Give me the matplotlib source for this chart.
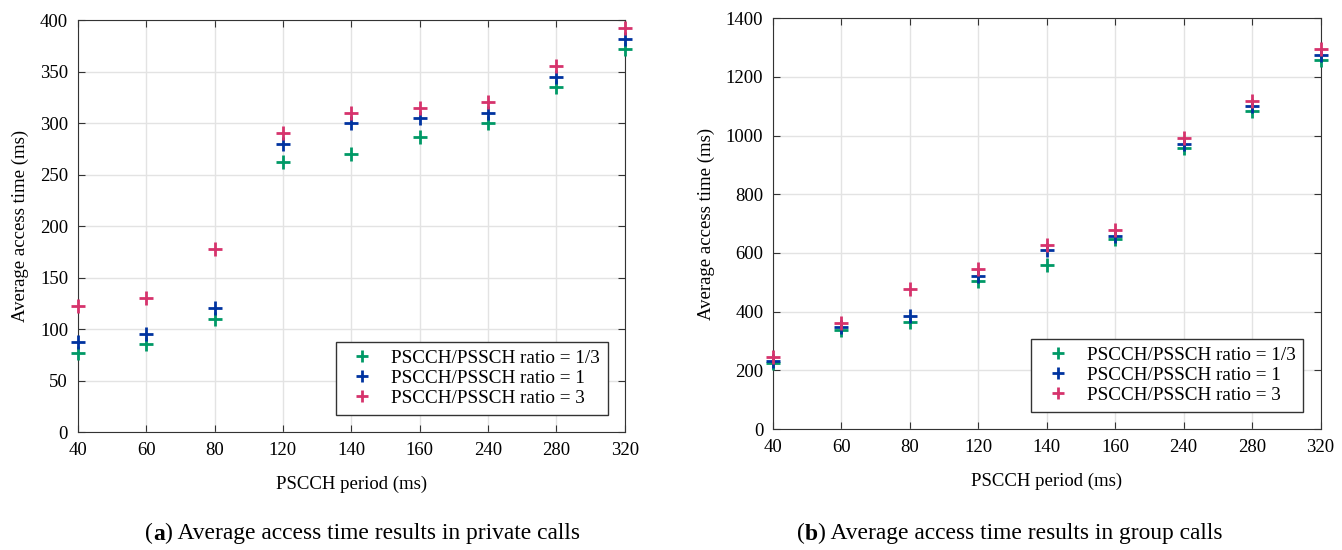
import matplotlib.pyplot as plt

plt.rcParams['font.family'] = ['Liberation Serif', 'DejaVu Serif']

periods = ['40', '60', '80', '120', '140', '160', '240', '280', '320']

# private calls (a)
priv_r13 = [77, 85, 110, 262, 270, 286, 300, 335, 372]
priv_r1 = [87, 95, 120, 280, 300, 305, 310, 345, 382]
priv_r3 = [122, 130, 178, 290, 310, 315, 320, 355, 392]

# group calls (b)
grp_r13 = [224, 337, 364, 506, 560, 649, 958, 1085, 1258]
grp_r1 = [233, 347, 384, 523, 610, 659, 972, 1101, 1274]
grp_r3 = [247, 360, 476, 544, 627, 678, 992, 1119, 1294]

labels = ['PSCCH/PSSCH ratio = 1/3', 'PSCCH/PSSCH ratio = 1', 'PSCCH/PSSCH ratio = 3']
colors = ['#009966', '#0033a0', '#d6336c']

fig = plt.figure(figsize=(13.42, 5.5), dpi=100)
ax1 = fig.add_axes([0.058, 0.2145, 0.4076, 0.749])
ax2 = fig.add_axes([0.576, 0.22, 0.408, 0.747])

def draw(ax, series, ymax, ystep):
    x = range(len(periods))
    for vals, c, lab in zip(series, colors, labels):
        ax.plot(x, vals, linestyle='none', marker='+', markersize=10,
                markeredgewidth=2, color=c, label=lab, clip_on=False, zorder=3)
    ax.set_xlim(0, len(periods) - 1)
    ax.set_ylim(0, ymax)
    ax.set_xticks(list(x))
    ax.set_xticklabels(periods)
    ax.set_yticks(range(0, ymax + 1, ystep))
    ax.grid(True, color='#e3e3e3', linewidth=1)
    ax.set_axisbelow(True)
    ax.tick_params(direction='in', labelsize=13.5, length=5, color='#333333',
                   top=True, right=True, pad=7)
    for s in ax.spines.values():
        s.set_color('#333333')
    ax.set_xlabel('PSCCH period (ms)', fontsize=13.5, labelpad=12)
    ax.set_ylabel('Average access time (ms)', fontsize=13.5, labelpad=8)
    leg = ax.legend(loc='lower right', fontsize=13.8, fancybox=False,
                    framealpha=1, edgecolor='#333333', borderaxespad=0.9,
                    handletextpad=0.5, labelspacing=0.14, markerscale=0.85)
    leg.get_frame().set_linewidth(1)

draw(ax1, [priv_r13, priv_r1, priv_r3], 400, 50)
draw(ax2, [grp_r13, grp_r1, grp_r3], 1400, 200)

# sub-captions with bold letter, pieces chained one after another
def chain(x0, parts):
    prev = None
    for txt, bold in parts:
        w = 'bold' if bold else 'normal'
        if prev is None:
            prev = fig.text(x0, 0.01, txt, fontsize=16.9, fontweight=w, va='bottom')
        else:
            prev = ax1.annotate(txt, xy=(1, 0), xycoords=prev, fontsize=16.9,
                                fontweight=w, va='bottom', annotation_clip=False)

chain(145 / 1342, [('(', False), ('a', True), (') Average access time results in private calls', False)])
chain(797 / 1342, [('(', False), ('b', True), (') Average access time results in group calls', False)])

fig.savefig('out.png', dpi=100)
